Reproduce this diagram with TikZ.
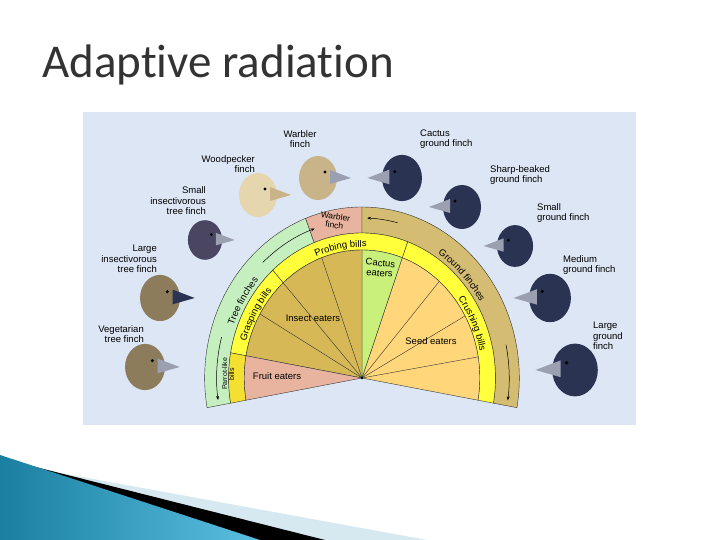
\documentclass[tikz,border=0pt]{standalone}
\usepackage{fontspec}
\setmainfont{Liberation Sans}
\newfontfamily\titlefont[Ligatures=NoCommon]{Carlito}
\usetikzlibrary{decorations.text,arrows.meta,calc}
\definecolor{panel}{HTML}{DCE6F4}
\definecolor{ringgreen}{HTML}{C6EFC0}
\definecolor{ringtan}{HTML}{D4BC72}
\definecolor{pinkc}{HTML}{E8B4A0}
\definecolor{yel}{HTML}{FFFF3C}
\definecolor{parrot}{HTML}{F4E030}
\definecolor{insect}{HTML}{D6B856}
\definecolor{seed}{HTML}{FFD77A}
\definecolor{cactus}{HTML}{C8F07A}
\definecolor{navy}{HTML}{2A3352}
\definecolor{tanbird}{HTML}{C9B48A}
\definecolor{palebird}{HTML}{E6D6AE}
\definecolor{purpbird}{HTML}{4A4560}
\definecolor{brownbird}{HTML}{8C7C5C}
\definecolor{beakgray}{HTML}{9AA0B0}
\definecolor{lightswoosh}{HTML}{D6E8F0}
\definecolor{swooshA}{HTML}{1A7FA0}
\definecolor{swooshB}{HTML}{5BC0E0}
\newcommand\lbl{\fontsize{9.5}{10.5}\selectfont}
\newcommand\chartf{\fontsize{9.5}{10}\selectfont}
\newcommand\birdhead[6]{%
 \begin{scope}[shift={(#1,#2)},xscale=#4,scale=#5]
  \fill[#3] (0,0) ellipse (19 and 22);
  \fill[#6] (12,8) -- (33,0) -- (12,-6) -- cycle;
  \fill[black] (7,6) circle (1.6);
 \end{scope}}
\tikzset{
 lab/.style={font=\lbl,align=#1,inner sep=0pt},
 cl/.style={font=\chartf,inner sep=0pt,align=center},
 seg/.style={draw=black!80,line width=0.4pt},
 arr/.style={-{Stealth[length=4pt,width=3pt]},line width=0.5pt}
}
\begin{document}
\begin{tikzpicture}[x=1pt,y=1pt]
\useasboundingbox (0,0) rectangle (720,540);
\fill[white] (0,0) rectangle (720,540);
% swoosh
\fill[lightswoosh] (0,78) -- (427,0) -- (0,0) -- cycle;
\fill[black] (0,82) -- (325,0) -- (0,0) -- cycle;
\shade[left color=swooshA,right color=swooshB] (0,85) -- (260,0) -- (0,0) -- cycle;
% title
\node[anchor=base west,inner sep=0pt,text=black!80,font=\titlefont\fontsize{47}{54}\selectfont] (title) at (42,462) {Adaptive radiation};
% panel
\fill[panel] (83,115) rectangle (636,428);
\begin{scope}[shift={(362,162)},xscale=0.92]
 % outer ring
 \fill[ringgreen,seg] (111:145) arc (111:190:145) -- (190:171) arc (190:111:171) -- cycle;
 \fill[pinkc,seg] (90:145) arc (90:111:145) -- (111:171) arc (111:90:171) -- cycle;
 \fill[ringtan,seg] (-10:145) arc (-10:90:145) -- (90:171) arc (90:-10:171) -- cycle;
 % yellow ring
 \fill[yel,seg] (-10:128) arc (-10:70:128) -- (70:145) arc (70:-10:145) -- cycle;
 \fill[yel,seg] (70:128) arc (70:132:128) -- (132:145) arc (132:70:145) -- cycle;
 \fill[yel,seg] (132:128) arc (132:170:128) -- (170:145) arc (170:132:145) -- cycle;
 \fill[parrot,seg] (170:128) arc (170:190:128) -- (190:145) arc (190:170:145) -- cycle;
 % wedges
 \fill[seed,seg] (0,0) -- (-10:128) arc (-10:70:128) -- cycle;
 \fill[cactus,seg] (0,0) -- (70:128) arc (70:90:128) -- cycle;
 \fill[insect,seg] (0,0) -- (90:128) arc (90:170:128) -- cycle;
 \fill[pinkc,seg] (0,0) -- (170:128) arc (170:190:128) -- cycle;
 \foreach \a in {110,132,150,49,29,9.5} \draw[seg] (0,0) -- (\a:128);
 \fill[black] (0,0) circle (1.5);
 % curved labels
 \path[decorate,decoration={text along path,text align=center,text={|\chartf|Tree finches}}] (170:149) arc (170:128:149);
 \path[decorate,decoration={text along path,text align=center,text={|\chartf|Ground finches}}] (74:149) arc (74:14:149);
 \path[decorate,decoration={text along path,text align=center,text={|\chartf|Probing bills}}] (122:131) arc (122:78:131);
 \path[decorate,decoration={text along path,text align=center,text={|\chartf|Grasping bills}}] (171:131) arc (171:131:131);
 \path[decorate,decoration={text along path,text align=center,text={|\chartf|Crushing bills}}] (58:131) arc (58:-8:131);
 % arrows
 \draw[arr] (133:158) arc (133:109:158);
 \draw[arr] (165:158) arc (165:188:158);
 \draw[arr] (76:160) arc (76:88:160);
 \draw[arr] (12:160) arc (12:-8:160);
\end{scope}
% flat chart labels
\node[cl,rotate=-8,font=\fontsize{8.5}{8.5}\selectfont] (warb) at (335,319) {Warbler\\finch};
\node[cl,rotate=-5] (cact) at (380,272) {Cactus\\eaters};
\node[cl] (ins) at (313,222) {Insect eaters};
\node[cl] (seedl) at (431,199) {Seed eaters};
\node[cl] (fruit) at (277,164) {Fruit eaters};
\node[cl,rotate=90,font=\fontsize{7}{7}\selectfont] (parr) at (228,166) {Parrot-like\\bills};
% birds
\birdhead{318}{362}{tanbird}{1}{1}{beakgray}
\birdhead{258}{345}{palebird}{1}{1}{tanbird}
\birdhead{205}{300}{purpbird}{1}{0.9}{beakgray}
\birdhead{160}{242}{brownbird}{1}{1.05}{navy}
\birdhead{145}{173}{brownbird}{1}{1.05}{beakgray}
\birdhead{402}{362}{navy}{-1}{1.05}{beakgray}
\birdhead{462}{333}{navy}{-1}{1}{beakgray}
\birdhead{515}{294}{navy}{-1}{0.95}{beakgray}
\birdhead{550}{242}{navy}{-1}{1.1}{beakgray}
\birdhead{575}{170}{navy}{-1}{1.2}{beakgray}
% bird labels
\node[lab=center] (l1) at (300,401) {Warbler\\finch};
\node[lab=left,anchor=west] (l2) at (420,401) {Cactus\\ground finch};
\node[lab=right,anchor=east] (l3) at (255,376) {Woodpecker\\finch};
\node[lab=right,anchor=east] (l4) at (206,339) {Small\\insectivorous\\tree finch};
\node[lab=right,anchor=east] (l5) at (157,281) {Large\\insectivorous\\tree finch};
\node[lab=right,anchor=east] (l6) at (144,206) {Vegetarian\\tree finch};
\node[lab=left,anchor=west] (l7) at (490,365) {Sharp-beaked\\ground finch};
\node[lab=left,anchor=west] (l8) at (537,327) {Small\\ground finch};
\node[lab=left,anchor=west] (l9) at (563,275) {Medium\\ground finch};
\node[lab=left,anchor=west] (l10) at (593,204) {Large\\ground\\finch};
\end{tikzpicture}
\end{document}
